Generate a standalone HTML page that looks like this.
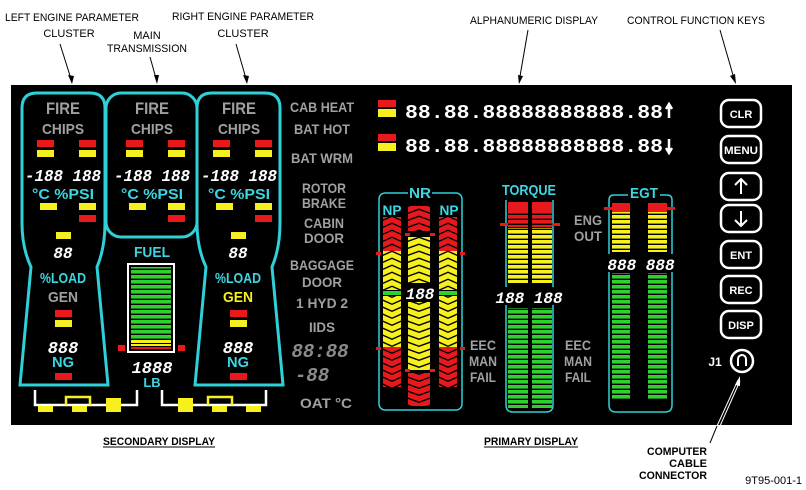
<!DOCTYPE html>
<html><head><meta charset="utf-8"><style>
html,body{margin:0;padding:0;background:#fff;}
svg{display:block;}
text{font-family:"Liberation Sans Narrow","Liberation Sans",sans-serif;font-weight:bold;}
.lb{font-size:11px;fill:#000;font-weight:normal;}
.g{fill:#a0a0a0;}
.c{fill:#3cd6e0;}
.w{fill:#fff;}
.y{fill:#f5f01e;}
.d{font-family:"Liberation Mono",monospace;font-style:italic;fill:#fff;font-weight:bold;}
</style></head><body>
<svg width="806" height="490" viewBox="0 0 806 490" xmlns="http://www.w3.org/2000/svg">
<defs>
<pattern id="pg" width="20" height="5" patternUnits="userSpaceOnUse"><rect width="20" height="3.6" fill="#2ed12e"/></pattern>
<pattern id="py" width="20" height="5" patternUnits="userSpaceOnUse"><rect width="20" height="3.6" fill="#f5f01e"/></pattern>
<pattern id="pr" width="20" height="5" patternUnits="userSpaceOnUse"><rect width="20" height="3.6" fill="#e8191c"/></pattern>
<pattern id="cuy" width="18" height="7" patternUnits="userSpaceOnUse"><path d="M0,4 L9,0 L18,4 L18,9.5 L9,5.5 L0,9.5Z M0,-3 L9,-7 L18,-3 L18,2.5 L9,-1.5 L0,2.5Z" fill="#f5f01e"/></pattern>
<pattern id="cur" width="18" height="7" patternUnits="userSpaceOnUse"><path d="M0,4 L9,0 L18,4 L18,9.5 L9,5.5 L0,9.5Z M0,-3 L9,-7 L18,-3 L18,2.5 L9,-1.5 L0,2.5Z" fill="#e8191c"/></pattern>
<pattern id="cdy" width="18" height="7" patternUnits="userSpaceOnUse"><path d="M0,0 L9,4 L18,0 L18,5.5 L9,9.5 L0,5.5Z M0,-7 L9,-3 L18,-7 L18,-1.5 L9,2.5 L0,-1.5Z" fill="#f5f01e"/></pattern>
<pattern id="cdr" width="18" height="7" patternUnits="userSpaceOnUse"><path d="M0,0 L9,4 L18,0 L18,5.5 L9,9.5 L0,5.5Z M0,-7 L9,-3 L18,-7 L18,-1.5 L9,2.5 L0,-1.5Z" fill="#e8191c"/></pattern>
<pattern id="cuy2" width="22" height="7" patternUnits="userSpaceOnUse"><path d="M0,4 L11,0 L22,4 L22,9.5 L11,5.5 L0,9.5Z M0,-3 L11,-7 L22,-3 L22,2.5 L11,-1.5 L0,2.5Z" fill="#f5f01e"/></pattern>
<pattern id="cur2" width="22" height="7" patternUnits="userSpaceOnUse"><path d="M0,4 L11,0 L22,4 L22,9.5 L11,5.5 L0,9.5Z M0,-3 L11,-7 L22,-3 L22,2.5 L11,-1.5 L0,2.5Z" fill="#e8191c"/></pattern>
<pattern id="cdy2" width="22" height="7" patternUnits="userSpaceOnUse"><path d="M0,0 L11,4 L22,0 L22,5.5 L11,9.5 L0,5.5Z M0,-7 L11,-3 L22,-7 L22,-1.5 L11,2.5 L0,-1.5Z" fill="#f5f01e"/></pattern>
<pattern id="cdr2" width="22" height="7" patternUnits="userSpaceOnUse"><path d="M0,0 L11,4 L22,0 L22,5.5 L11,9.5 L0,5.5Z M0,-7 L11,-3 L22,-7 L22,-1.5 L11,2.5 L0,-1.5Z" fill="#e8191c"/></pattern>
<path id="cl" d="M22,108 Q22,93 37,93 L90,93 Q105,93 105,108 L105,223 Q105,248 97,267 L108,385 L20,385 L31,267 Q22,248 22,223 Z"/>
</defs>

<!-- top labels -->
<text class="lb" x="72" y="21" text-anchor="middle" textLength="134" lengthAdjust="spacingAndGlyphs">LEFT ENGINE PARAMETER</text>
<text class="lb" x="69" y="37" text-anchor="middle">CLUSTER</text>
<text class="lb" x="147" y="39" text-anchor="middle">MAIN</text>
<text class="lb" x="147" y="52" text-anchor="middle" textLength="80" lengthAdjust="spacingAndGlyphs">TRANSMISSION</text>
<text class="lb" x="243" y="20" text-anchor="middle" textLength="142" lengthAdjust="spacingAndGlyphs">RIGHT ENGINE PARAMETER</text>
<text class="lb" x="243" y="37" text-anchor="middle">CLUSTER</text>
<text class="lb" x="534" y="24" text-anchor="middle" textLength="128" lengthAdjust="spacingAndGlyphs">ALPHANUMERIC DISPLAY</text>
<text class="lb" x="696" y="24" text-anchor="middle" textLength="138" lengthAdjust="spacingAndGlyphs">CONTROL FUNCTION KEYS</text>

<!-- black panel -->
<rect x="11" y="85" width="781" height="340" fill="#000"/>

<!-- leaders -->
<g stroke="#000" stroke-width="1" fill="none">
<line x1="60" y1="44" x2="72" y2="82"/><line x1="150" y1="57" x2="157" y2="82"/><line x1="236" y1="44" x2="247" y2="82"/>
<line x1="528" y1="30" x2="519" y2="82"/><line x1="720" y1="30" x2="735" y2="82"/>
</g>
<g fill="#000"><path d="M72,84 l-4,-9 l6,1z"/><path d="M157,84 l-3,-9 l5,0z"/><path d="M247,84 l-4,-9 l6,1z"/><path d="M519,84 l-1,-9 l5,1z"/><path d="M736,84 l-6,-8 l5,-2z"/></g>
<g stroke="#fff" stroke-width="1"><line x1="717" y1="426" x2="738" y2="380"/><line x1="720" y1="426" x2="740" y2="381"/></g>
<line x1="717" y1="426" x2="710" y2="443" stroke="#000"/>
<path d="M740,376 l-5,9 l5,1z" fill="#fff"/>

<!-- clusters -->
<g fill="none" stroke="#2fd0d8" stroke-width="3">
<use href="#cl"/><use href="#cl" transform="translate(175,0)"/>
<rect x="106" y="93" width="91" height="144" rx="15"/>
</g>

<!-- cluster contents -->
<g id="c1">
<text class="g" x="63" y="114" font-size="17" text-anchor="middle" textLength="34" lengthAdjust="spacingAndGlyphs">FIRE</text>
<text class="g" x="63" y="134" font-size="15" text-anchor="middle" textLength="42" lengthAdjust="spacingAndGlyphs">CHIPS</text>
<rect x="37" y="140" width="17" height="7" fill="#e8191c"/><rect x="79" y="140" width="17" height="7" fill="#e8191c"/>
<rect x="37" y="150" width="17" height="7" fill="#f5f01e"/><rect x="79" y="150" width="17" height="7" fill="#f5f01e"/>
<text class="d" x="63" y="181" font-size="17" text-anchor="middle" textLength="76" lengthAdjust="spacingAndGlyphs">-188 188</text>
<text class="c" x="63" y="199" font-size="15" text-anchor="middle" textLength="62" lengthAdjust="spacingAndGlyphs">°C %PSI</text>
<rect x="40" y="203" width="17" height="7" fill="#f5f01e"/><rect x="79" y="203" width="17" height="7" fill="#f5f01e"/>
<rect x="79" y="215" width="17" height="7" fill="#e8191c"/>
</g>
<use href="#c1" transform="translate(89,0)"/>
<use href="#c1" transform="translate(176,0)"/>
<g id="c2">
<rect x="56" y="232" width="15" height="7" fill="#f5f01e"/>
<text class="d" x="63" y="258" font-size="16" text-anchor="middle">88</text>
<text class="c" x="63" y="283" font-size="15" text-anchor="middle" textLength="46" lengthAdjust="spacingAndGlyphs">%LOAD</text>
<rect x="55" y="310" width="17" height="7" fill="#e8191c"/><rect x="55" y="320" width="17" height="7" fill="#f5f01e"/>
<text class="d" x="63" y="353" font-size="17" text-anchor="middle">888</text>
<text class="c" x="63" y="367" font-size="15" text-anchor="middle" textLength="22" lengthAdjust="spacingAndGlyphs">NG</text>
<rect x="55" y="373" width="17" height="7" fill="#e8191c"/>
</g>
<use href="#c2" transform="translate(175,0)"/>
<text class="g" x="63" y="302" font-size="15" text-anchor="middle" textLength="30" lengthAdjust="spacingAndGlyphs">GEN</text>
<text class="y" x="238" y="302" font-size="15" text-anchor="middle" textLength="30" lengthAdjust="spacingAndGlyphs">GEN</text>

<!-- fuel -->
<text class="c" x="152" y="257" font-size="15" text-anchor="middle" textLength="36" lengthAdjust="spacingAndGlyphs">FUEL</text>
<rect x="128" y="264" width="46" height="88" fill="none" stroke="#fff" stroke-width="2"/>
<rect x="131" y="267" width="40" height="72" fill="url(#pg)"/>
<rect x="131" y="340" width="40" height="3" fill="#f5f01e"/><rect x="131" y="344" width="40" height="2" fill="#f5f01e"/>
<rect x="131" y="347" width="40" height="2" fill="#e8191c"/>
<rect x="118" y="345" width="7" height="6" fill="#e8191c"/><rect x="178" y="345" width="7" height="6" fill="#e8191c"/>
<text class="d" x="152" y="373" font-size="17" text-anchor="middle">1888</text>
<text class="c" x="152" y="387" font-size="13" text-anchor="middle">LB</text>

<!-- bottom connectors -->
<g stroke="#fff" stroke-width="2.5" fill="none">
<path d="M35,390 V405 H137 V390"/><path d="M162,390 V405 H266 V390"/>
</g>
<g stroke="#f5f01e" stroke-width="2.5" fill="none">
<path d="M66,405 V397 H90 V405"/><path d="M208,405 V397 H232 V405"/>
</g>
<g fill="#f5f01e">
<rect x="38" y="406" width="15" height="6"/><rect x="72" y="406" width="15" height="6"/><rect x="106" y="398" width="15" height="14"/>
<rect x="178" y="398" width="15" height="14"/><rect x="212" y="406" width="15" height="6"/><rect x="246" y="406" width="15" height="6"/>
</g>

<!-- annunciator column -->
<g class="g" font-size="14" text-anchor="middle" lengthAdjust="spacingAndGlyphs">
<text x="322" y="112" textLength="64" lengthAdjust="spacingAndGlyphs">CAB HEAT</text>
<text x="322" y="134" textLength="56" lengthAdjust="spacingAndGlyphs">BAT HOT</text>
<text x="322" y="163" textLength="62" lengthAdjust="spacingAndGlyphs">BAT WRM</text>
<text x="324" y="193" textLength="44" lengthAdjust="spacingAndGlyphs">ROTOR</text>
<text x="324" y="208" textLength="44" lengthAdjust="spacingAndGlyphs">BRAKE</text>
<text x="324" y="228" textLength="40" lengthAdjust="spacingAndGlyphs">CABIN</text>
<text x="324" y="243" textLength="40" lengthAdjust="spacingAndGlyphs">DOOR</text>
<text x="322" y="270" textLength="64" lengthAdjust="spacingAndGlyphs">BAGGAGE</text>
<text x="322" y="287" textLength="40" lengthAdjust="spacingAndGlyphs">DOOR</text>
<text x="322" y="308" textLength="52" lengthAdjust="spacingAndGlyphs">1 HYD 2</text>
<text x="322" y="332" textLength="26" lengthAdjust="spacingAndGlyphs">IIDS</text>
<text x="326" y="408" textLength="52" lengthAdjust="spacingAndGlyphs">OAT °C</text>
</g>
<text class="d" x="320" y="357" font-size="19" text-anchor="middle" style="fill:#8a8a8a">88:88</text>
<text class="d" x="312" y="381" font-size="19" text-anchor="middle" style="fill:#8a8a8a">-88</text>

<!-- alphanumeric -->
<rect x="378" y="100" width="18" height="7" fill="#e8191c"/><rect x="378" y="109" width="18" height="8" fill="#f5f01e"/>
<rect x="378" y="134" width="18" height="7" fill="#e8191c"/><rect x="378" y="143" width="18" height="8" fill="#f5f01e"/>
<text x="405" y="118" font-size="19" fill="#fff" textLength="258" lengthAdjust="spacingAndGlyphs" style="font-family:'Liberation Mono',monospace;font-weight:bold">88.88.88888888888.88</text>
<text x="405" y="152" font-size="19" fill="#fff" textLength="258" lengthAdjust="spacingAndGlyphs" style="font-family:'Liberation Mono',monospace;font-weight:bold">88.88.88888888888.88</text>
<path d="M669,118 V106 M666,109 L669,104 L672,109" stroke="#fff" stroke-width="2.5" fill="none"/>
<path d="M669,139 V151 M666,148 L669,153 L672,148" stroke="#fff" stroke-width="2.5" fill="none"/>

<!-- buttons -->
<g fill="none" stroke="#fff" stroke-width="2.5">
<rect x="721" y="100" width="40" height="27" rx="8"/><rect x="721" y="136" width="40" height="27" rx="8"/>
<rect x="721" y="173" width="40" height="27" rx="8"/><rect x="721" y="205" width="40" height="27" rx="8"/>
<rect x="721" y="241" width="40" height="27" rx="8"/><rect x="721" y="276" width="40" height="27" rx="8"/>
<rect x="721" y="311" width="40" height="27" rx="8"/>
<circle cx="742" cy="361" r="11"/>
</g>
<g class="w" font-size="11" text-anchor="middle">
<text x="741" y="118">CLR</text><text x="741" y="154" textLength="34" lengthAdjust="spacingAndGlyphs">MENU</text>
<text x="741" y="259">ENT</text><text x="741" y="294">REC</text><text x="741" y="329">DISP</text>
<text x="715" y="366" font-size="12">J1</text>
</g>
<g stroke="#fff" stroke-width="2" fill="none">
<path d="M741,194 V179 M735,185 L741,179 L747,185"/><path d="M741,211 V226 M735,220 L741,226 L747,220"/>
<path d="M738,366 V359 A4,4 0 0 1 746,359 V366"/>
</g>

<!-- NR box -->
<rect x="379" y="193" width="83" height="217" rx="6" fill="none" stroke="#2fd0d8" stroke-width="1.5"/>
<rect x="408" y="186" width="24" height="14" fill="#000"/>
<text class="c" x="420" y="198" font-size="15" text-anchor="middle" textLength="22" lengthAdjust="spacingAndGlyphs">NR</text>
<text class="c" x="392" y="215" font-size="14" text-anchor="middle" textLength="19" lengthAdjust="spacingAndGlyphs">NP</text>
<text class="c" x="449" y="215" font-size="14" text-anchor="middle" textLength="19" lengthAdjust="spacingAndGlyphs">NP</text>
<g transform="translate(383,0)"><rect x="0" y="217" width="18" height="34" fill="url(#cur)"/><rect x="0" y="251" width="18" height="39" fill="url(#cuy)"/><rect x="0" y="291" width="18" height="4" fill="#2ed12e"/><rect x="0" y="296" width="18" height="51" fill="url(#cdy)"/><rect x="0" y="347" width="18" height="40" fill="url(#cdr)"/></g>
<g transform="translate(439,0)"><rect x="0" y="217" width="18" height="34" fill="url(#cur)"/><rect x="0" y="251" width="18" height="39" fill="url(#cuy)"/><rect x="0" y="291" width="18" height="4" fill="#2ed12e"/><rect x="0" y="296" width="18" height="51" fill="url(#cdy)"/><rect x="0" y="347" width="18" height="40" fill="url(#cdr)"/></g>
<g transform="translate(408,0)"><rect x="0" y="206" width="22" height="25" fill="url(#cur2)"/><rect x="0" y="237" width="22" height="46" fill="url(#cuy2)"/><rect x="0" y="302" width="22" height="68" fill="url(#cdy2)"/><rect x="0" y="373" width="22" height="33" fill="url(#cdr2)"/></g>
<g fill="#e8191c"><rect x="405" y="233" width="5" height="3"/><rect x="430" y="233" width="5" height="3"/><rect x="405" y="369" width="5" height="3"/><rect x="430" y="369" width="5" height="3"/>
<rect x="376" y="252" width="5" height="3"/><rect x="460" y="252" width="5" height="3"/><rect x="376" y="347" width="5" height="3"/><rect x="460" y="347" width="5" height="3"/></g>
<rect x="406" y="284" width="28" height="18" fill="#000"/>
<text class="d" x="420" y="299" font-size="16" text-anchor="middle">188</text>

<g class="g" font-size="14" text-anchor="middle">
<text x="483" y="350" textLength="26" lengthAdjust="spacingAndGlyphs">EEC</text><text x="483" y="366" textLength="28" lengthAdjust="spacingAndGlyphs">MAN</text><text x="483" y="382" textLength="26" lengthAdjust="spacingAndGlyphs">FAIL</text>
<text x="578" y="350" textLength="26" lengthAdjust="spacingAndGlyphs">EEC</text><text x="578" y="366" textLength="28" lengthAdjust="spacingAndGlyphs">MAN</text><text x="578" y="382" textLength="26" lengthAdjust="spacingAndGlyphs">FAIL</text>
<text x="588" y="225" textLength="28" lengthAdjust="spacingAndGlyphs">ENG</text><text x="588" y="241" textLength="28" lengthAdjust="spacingAndGlyphs">OUT</text>
</g>

<!-- torque -->
<text class="c" x="529" y="195" font-size="15" text-anchor="middle" textLength="54" lengthAdjust="spacingAndGlyphs">TORQUE</text>
<path d="M506,200 V405 Q506,412 513,412 H546 Q553,412 553,405 V200" fill="none" stroke="#2fd0d8" stroke-width="1.5"/>
<rect x="508" y="202" width="20" height="25" fill="url(#pr)"/><rect x="532" y="202" width="20" height="25" fill="url(#pr)"/>
<rect x="508" y="202" width="20" height="8" fill="#e8191c"/><rect x="532" y="202" width="20" height="8" fill="#e8191c"/>
<rect x="508" y="228" width="20" height="55" fill="url(#py)"/><rect x="532" y="228" width="20" height="55" fill="url(#py)"/>
<rect x="500" y="223" width="8" height="3" fill="#e8191c"/><rect x="552" y="223" width="8" height="3" fill="#e8191c"/>
<rect x="502" y="287" width="56" height="18" fill="#000"/>
<text class="d" x="529" y="303" font-size="16" text-anchor="middle">188 188</text>
<rect x="508" y="308" width="20" height="100" fill="url(#pg)"/><rect x="532" y="308" width="20" height="100" fill="url(#pg)"/>

<!-- EGT -->
<path d="M609,200 Q609,195 614,195 H667 Q672,195 672,200 V405 Q672,412 665,412 H616 Q609,412 609,405 Z" fill="none" stroke="#2fd0d8" stroke-width="1.5"/>
<rect x="628" y="187" width="32" height="14" fill="#000"/>
<text class="c" x="644" y="198" font-size="15" text-anchor="middle" textLength="28" lengthAdjust="spacingAndGlyphs">EGT</text>
<rect x="612" y="203" width="18" height="9" fill="#e8191c"/><rect x="648" y="203" width="19" height="9" fill="#e8191c"/>
<rect x="604" y="207" width="8" height="3" fill="#e8191c"/><rect x="667" y="207" width="8" height="3" fill="#e8191c"/>
<rect x="612" y="212" width="18" height="40" fill="url(#py)"/><rect x="648" y="212" width="19" height="40" fill="url(#py)"/>
<rect x="604" y="254" width="76" height="18" fill="#000"/>
<text class="d" x="641" y="270" font-size="16" text-anchor="middle">888 888</text>
<rect x="612" y="273" width="18" height="127" fill="url(#pg)"/><rect x="648" y="273" width="19" height="127" fill="url(#pg)"/>

<!-- bottom labels -->
<text class="lb" x="159" y="445" text-anchor="middle" textLength="112" lengthAdjust="spacingAndGlyphs" style="font-weight:bold">SECONDARY DISPLAY</text>
<line x1="103" y1="447" x2="215" y2="447" stroke="#000"/>
<text class="lb" x="531" y="445" text-anchor="middle" textLength="94" lengthAdjust="spacingAndGlyphs" style="font-weight:bold">PRIMARY DISPLAY</text>
<line x1="484" y1="447" x2="578" y2="447" stroke="#000"/>
<g class="lb" text-anchor="end"><text x="707" y="455" textLength="60" lengthAdjust="spacingAndGlyphs">COMPUTER</text><text x="707" y="467">CABLE</text><text x="707" y="479" textLength="68" lengthAdjust="spacingAndGlyphs">CONNECTOR</text></g>
<text class="lb" x="802" y="484" text-anchor="end">9T95-001-1</text>
</svg>
</body></html>
